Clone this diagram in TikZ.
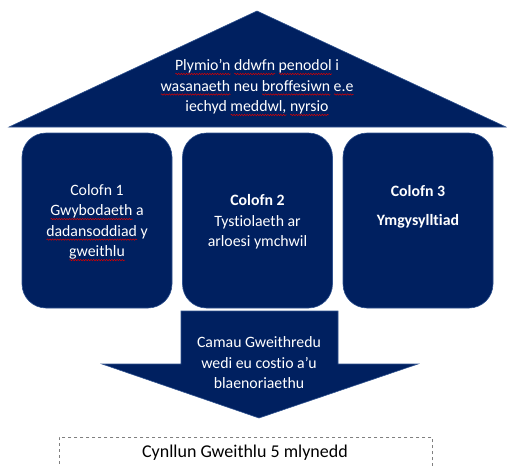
\documentclass[tikz,border=0pt]{standalone}
\usepackage{fontspec}
\setmainfont{Carlito}[Ligatures=NoCommon]
\usetikzlibrary{decorations.pathmorphing}
\newsavebox\wbox
\newcommand\redwave[1]{\sbox\wbox{#1}\rlap{\smash{\tikz[baseline=0pt,x=1pt,y=1pt]\draw[red!85!black,line width=0.5pt,decorate,decoration={snake,amplitude=0.7pt,segment length=2.6pt}] (0,-3.2) -- (\the\wd\wbox,-3.2);}}\usebox\wbox}
\definecolor{navy}{HTML}{002060}
\definecolor{edge}{HTML}{2F528F}
\tikzset{
  shapefill/.style={fill=navy, draw=edge, line width=0.6pt},
  colbox/.style={shapefill, rounded corners=24pt, minimum width=150pt, minimum height=175pt, inner sep=0pt},
  wtext/.style={text=white, align=center, font=\fontsize{15.8}{20.5}\selectfont, inner sep=0pt},
}
\begin{document}
\begin{tikzpicture}[x=1pt,y=-1pt]
\useasboundingbox (0,0) rectangle (507,466);
% roof
\draw[shapefill] (9,127) -- (257,11) -- (506,127) -- cycle;
\node[wtext] (rooftext) at (257,87) {\redwave{Plymio’n} \redwave{ddwfn} \redwave{penodol} i\\ \redwave{wasanaeth} neu \redwave{broffesiwn} \redwave{e.e}\\ iechyd \redwave{meddwl,} \redwave{nyrsio}};
% columns
\node[colbox] (col1) at (97,220.5) {};
\node[colbox] (col2) at (257.5,220.5) {};
\node[colbox] (col3) at (418,220.5) {};
\node[wtext] (t1) at (97,222) {Colofn 1\\ \redwave{Gwybodaeth} a\\ \redwave{dadansoddiad} y\\ \redwave{gweithlu}};
\node[wtext] (t2) at (257.5,222) {\textbf{Colofn 2}\\ Tystiolaeth ar\\ arloesi ymchwil};
\node[wtext] (t3) at (418,207) {\textbf{Colofn 3}\\[8pt] \textbf{Ymgysylltiad}};
% arrow
\draw[shapefill] (181,311) -- (338,311) -- (338,364) -- (418,364) -- (259,418) -- (102,364) -- (181,364) -- cycle;
\node[wtext] (arrowtext) at (259,363) {Camau Gweithredu\\ wedi eu costio a’u\\ blaenoriaethu};
% plan box
\node[draw=gray, dashed, line width=0.6pt, minimum width=373pt, minimum height=40pt, anchor=north west, inner sep=0pt] (plan) at (59,437) {};
\node[font=\fontsize{18}{20}\selectfont, inner sep=0pt] (plantext) at (245,453) {Cynllun Gweithlu 5 mlynedd};
\end{tikzpicture}
\end{document}
